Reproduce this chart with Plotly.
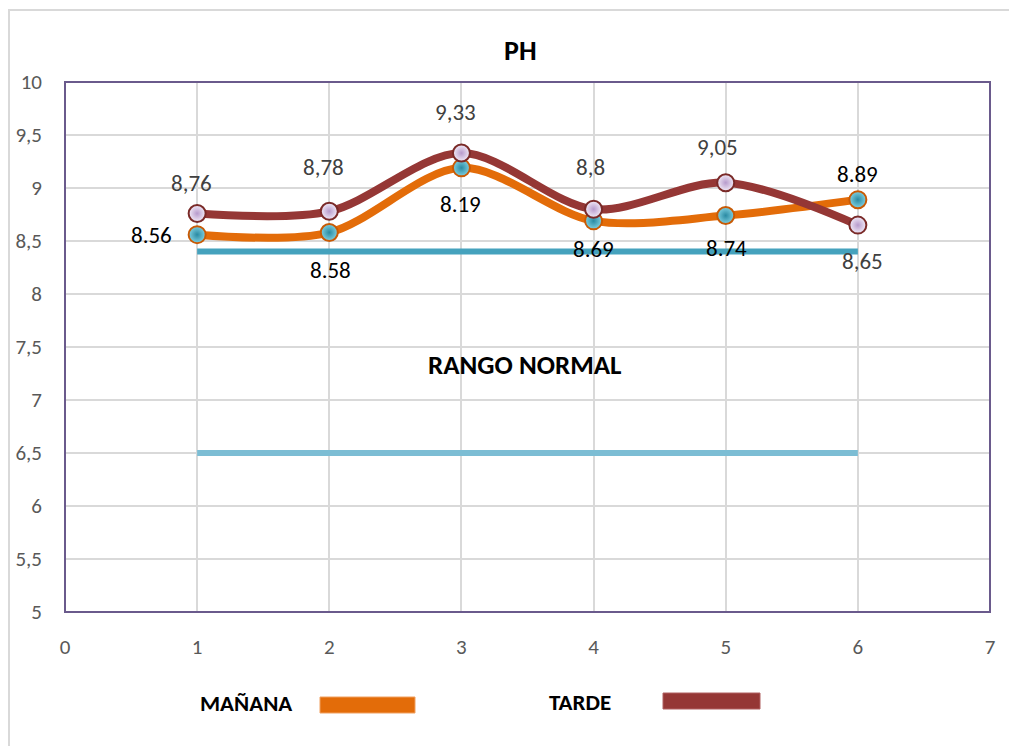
import plotly.graph_objects as go

x_vals = [1, 2, 3, 4, 5, 6]
manana = [8.56, 8.58, 9.19, 8.69, 8.74, 8.89]
manana_labels = ["8.56", "8.58", "8.19", "8.69", "8.74", "8.89"]
tarde = [8.76, 8.78, 9.33, 8.80, 9.05, 8.65]
tarde_labels = ["8,76", "8,78", "9,33", "8,8", "9,05", "8,65"]
ref_x = [1, 6]
ref_upper = [8.4, 8.4]
ref_lower = [6.5, 6.5]
x_ticks = [0, 1, 2, 3, 4, 5, 6, 7]
y_ticks = [5, 5.5, 6, 6.5, 7, 7.5, 8, 8.5, 9, 9.5, 10]
y_tick_text = ["5", "5,5", "6", "6,5", "7", "7,5", "8", "8,5", "9", "9,5", "10"]

FONT = "Carlito, 'Liberation Sans Narrow', 'Liberation Sans', Arial, sans-serif"
OFF = 8  # page body margin
W, H = 1017 - OFF, 746 - OFF
# plot area in screen pixels
L, R, T, B = 65, 990, 82, 612

def px(x):
    return (x - L) / (R - L)

def py(y):
    return (B - y) / (B - T)

fig = go.Figure()

fig.add_trace(go.Scatter(x=ref_x, y=ref_lower, mode="lines",
                         line=dict(color="#7cbdd4", width=6), hoverinfo="skip"))
fig.add_trace(go.Scatter(x=ref_x, y=ref_upper, mode="lines",
                         line=dict(color="#45a2bd", width=6), hoverinfo="skip"))

fig.add_trace(go.Scatter(
    x=x_vals, y=manana, mode="lines+markers", name="MAÑANA",
    line=dict(color="#e36c09", width=8, shape="spline", smoothing=0.9),
    marker=dict(size=17, color="#7fd0e0",
                gradient=dict(type="radial", color="#2a8aa3"),
                line=dict(color="#c85a05", width=2))))
fig.add_trace(go.Scatter(
    x=x_vals, y=tarde, mode="lines+markers", name="TARDE",
    line=dict(color="#953735", width=8, shape="spline", smoothing=0.9),
    marker=dict(size=17, color="#f2ebf7",
                gradient=dict(type="radial", color="#b79bcc"),
                line=dict(color="#7a2a28", width=2))))

# data labels
tarde_shift = [(-6, 30), (-6, 44), (-6, 41), (-3, 42), (-8, 36), (5, -36)]
manana_shift = [(-46, 0), (1, -37), (-1, -36), (0, -28), (1, -32), (0, 26)]
for xv, yv, t, (dx, dy) in zip(x_vals, tarde, tarde_labels, tarde_shift):
    fig.add_annotation(x=xv, y=yv, text=t, showarrow=False, xshift=dx, yshift=dy,
                       xanchor="center", yanchor="middle",
                       font=dict(family=FONT, size=23, color="#404040"))
for xv, yv, t, (dx, dy) in zip(x_vals, manana, manana_labels, manana_shift):
    fig.add_annotation(x=xv, y=yv, text=t, showarrow=False, xshift=dx, yshift=dy,
                       xanchor="center", yanchor="middle",
                       font=dict(family=FONT, size=23, color="#000000"))

def paper_text(x, y, text, size):
    fig.add_annotation(x=px(x), y=py(y), xref="paper", yref="paper", text=text,
                       xanchor="center", yanchor="middle", showarrow=False,
                       font=dict(family=FONT, size=size, color="#000000"))

paper_text(525, 364, "<b>RANGO NORMAL</b>", 27)
paper_text(520, 50, "<b>PH</b>", 28)

# custom legend
paper_text(246, 703, "<b>MAÑANA</b>", 23)
paper_text(580, 702, "<b>TARDE</b>", 23)
fig.add_shape(type="rect", xref="paper", yref="paper", x0=px(320), x1=px(415), y0=py(713), y1=py(697),
              fillcolor="#e36c09", line=dict(color="#f0a060", width=1))
fig.add_shape(type="rect", xref="paper", yref="paper", x0=px(663), x1=px(760), y0=py(709), y1=py(693),
              fillcolor="#953735", line=dict(color="#b06060", width=1))

# outer chart frame
fig.add_shape(type="rect", xref="paper", yref="paper", x0=px(9), x1=px(1040), y0=py(780), y1=py(10),
              line=dict(color="#d9d9d9", width=2), fillcolor="rgba(0,0,0,0)", layer="below")
# plot area border
fig.add_shape(type="rect", xref="paper", yref="paper", x0=0, x1=1, y0=0, y1=1,
              line=dict(color="#6a5a8c", width=2), fillcolor="rgba(0,0,0,0)")

fig.update_xaxes(range=[0, 7], tickvals=x_ticks, showgrid=True, gridcolor="#d9d9d9", gridwidth=2,
                 zeroline=False, showline=False, ticks="", automargin=False,
                 tickfont=dict(family=FONT, size=21, color="#595959"), ticklabelstandoff=20)
fig.update_yaxes(range=[5, 10], tickvals=y_ticks, ticktext=y_tick_text, showgrid=True,
                 gridcolor="#d9d9d9", gridwidth=2, zeroline=False, showline=False, ticks="",
                 automargin=False,
                 tickfont=dict(family=FONT, size=21, color="#595959"), ticklabelstandoff=22)

fig.update_layout(width=W, height=H,
                  margin=dict(l=L - OFF, r=W - (R - OFF), t=T - OFF, b=H - (B - OFF)),
                  paper_bgcolor="white", plot_bgcolor="white", showlegend=False)

fig.write_html("out.html")
